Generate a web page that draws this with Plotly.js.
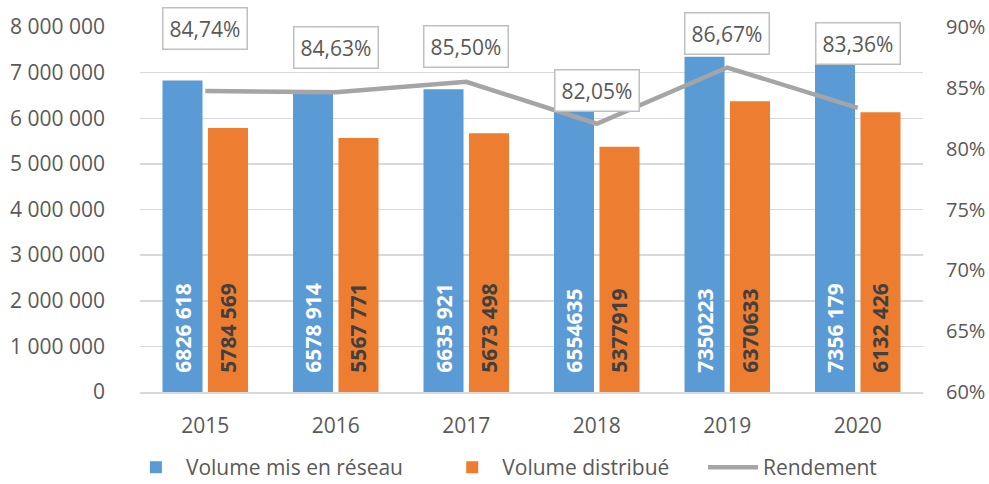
<!DOCTYPE html>
<html>
<head>
<meta charset="utf-8">
<script src="https://cdn.plot.ly/plotly-3.0.1.min.js"></script>
<style>html,body{margin:0;padding:0;background:#fff;}#chart{width:989px;height:484px;}</style>
</head>
<body>
<div id="chart"></div>
<script>
const years = ['2015', '2016', '2017', '2018', '2019', '2020'];
const volumeReseau = [6826618, 6578914, 6635921, 6554635, 7350223, 7356179];
const volumeDistribue = [5784569, 5567771, 5673498, 5377919, 6370633, 6132426];
const rendement = [0.8474, 0.8463, 0.8550, 0.8205, 0.8667, 0.8336];
const labelsReseau = ['6826 618', '6578 914', '6635 921', '6554635', '7350223', '7356 179'];
const labelsDistribue = ['5784 569', '5567 771', '5673 498', '5377919', '6370633', '6132 426'];
const rendementLabels = rendement.map(v => (v * 100).toFixed(2).replace('.', ',') + '%');

const FONT = 'Open Sans, Noto Sans, sans-serif';
const GREY = '#595959';
const pad = '\u00a0\u00a0\u00a0';

const traces = [
  {
    type: 'bar', name: 'Volume mis en réseau', x: years, y: volumeReseau, legend: 'legend',
    marker: {color: '#5B9BD5'},
    text: labelsReseau.map(t => pad + t), textposition: 'inside', insidetextanchor: 'start',
    textangle: -90, textfont: {family: FONT, size: 21, color: '#FFFFFF', weight: 'bold'},
    hoverinfo: 'skip'
  },
  {
    type: 'bar', name: 'Volume distribué', x: years, y: volumeDistribue, legend: 'legend2',
    marker: {color: '#ED7D31'},
    text: labelsDistribue.map(t => pad + t), textposition: 'inside', insidetextanchor: 'start',
    textangle: -90, textfont: {family: FONT, size: 21, color: '#404040', weight: 'bold'},
    hoverinfo: 'skip'
  },
  {
    type: 'scatter', mode: 'lines', name: 'Rendement', x: years, y: rendement, yaxis: 'y2',
    legend: 'legend3', line: {color: '#A5A5A5', width: 4.5}, hoverinfo: 'skip'
  }
];

// vertical offsets of the value boxes above the line points (px)
const boxShift = [63, 45, 35, 33, 34, 64];

const annotations = years.map((yr, i) => ({
  x: i, y: rendement[i], xref: 'x', yref: 'y2',
  text: rendementLabels[i], showarrow: false, yshift: boxShift[i],
  font: {family: FONT, size: 21, color: GREY},
  bgcolor: '#FFFFFF', bordercolor: '#BFBFBF', borderwidth: 1.5, borderpad: 6
}));

function legendAt(x) {
  return {orientation: 'h', x: x, xanchor: 'left', xref: 'paper', y: 0.034, yanchor: 'middle',
          yref: 'container', itemwidth: 50, font: {family: FONT, size: 21, color: GREY},
          bgcolor: 'rgba(0,0,0,0)'};
}

const layout = {
  width: 989, height: 484,
  margin: {l: 140, r: 66, t: 27, b: 92},
  paper_bgcolor: '#FFFFFF', plot_bgcolor: '#FFFFFF',
  separators: ', ',
  barmode: 'group', bargap: 0.303, bargroupgap: 0.12,
  font: {family: FONT, size: 21, color: GREY},
  showlegend: true,
  legend: legendAt(-0.018),
  legend2: legendAt(0.386),
  legend3: legendAt(0.719),
  xaxis: {type: 'category', range: [-0.5, 5.5], showgrid: false, showline: true, automargin: false,
          linecolor: '#D9D9D9', linewidth: 1.5, ticks: '', ticklabelstandoff: 14,
          tickfont: {family: FONT, size: 21, color: GREY}, zeroline: false},
  yaxis: {range: [0, 8000000], dtick: 1000000, tickformat: ',d', showgrid: true, automargin: false,
          gridcolor: '#D9D9D9', gridwidth: 1.5, zeroline: false, showline: false, ticks: '',
          ticklabelstandoff: 34, tickfont: {family: FONT, size: 21, color: GREY}},
  yaxis2: {overlaying: 'y', side: 'right', range: [0.6, 0.9], dtick: 0.05, tickformat: '.0%',
           automargin: false, showgrid: false, zeroline: false, showline: false, ticks: '',
           ticklabelstandoff: 22, tickfont: {family: FONT, size: 20, color: GREY}},
  annotations: annotations
};

Plotly.newPlot('chart', traces, layout, {displayModeBar: false, staticPlot: true});
</script>
</body>
</html>
